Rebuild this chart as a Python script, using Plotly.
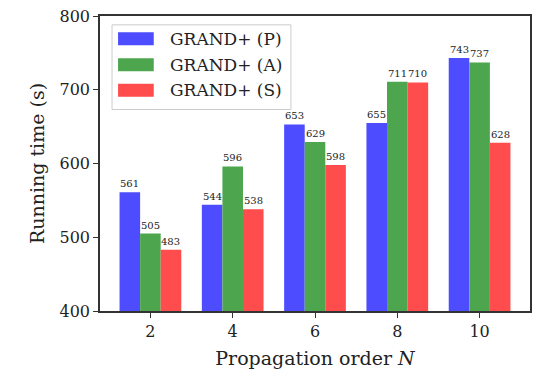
import plotly.graph_objects as go

# Running time (s) of the three GRAND+ variants per propagation order N
orders = [2, 4, 6, 8, 10]
series_names = ["GRAND+ (P)", "GRAND+ (A)", "GRAND+ (S)"]
time_p = [561, 544, 653, 655, 743]
time_a = [505, 596, 629, 711, 737]
time_s = [483, 538, 598, 710, 628]
y_ticks = [400, 500, 600, 700, 800]

colors = ["#4d4dff", "#4da64d", "#ff4d4d"]
font_family = "DejaVu Serif, Liberation Serif, serif"
text_color = "#222"

fig = go.Figure()
all_series = [time_p, time_a, time_s]
for name, vals, col in zip(series_names, all_series, colors):
    fig.add_trace(go.Bar(
        x=orders, y=vals, name=name, showlegend=False,
        marker=dict(color=col, line=dict(width=0)),
    ))

# value labels above each bar (bars are 0.5 units wide, grouped around N)
bar_w = 0.5
annotations = []
for i, vals in enumerate(all_series):
    for n, v in zip(orders, vals):
        annotations.append(dict(
            x=n + (i - 1) * bar_w, y=v, text=str(v),
            showarrow=False, yanchor="bottom", yshift=1,
            font=dict(family=font_family, size=10, color=text_color),
        ))

# legend drawn as a framed box with wide colour swatches
shapes = [dict(
    type="rect", xref="paper", yref="paper",
    x0=0.028, x1=0.444, y0=0.683, y1=0.97,
    line=dict(color="#cccccc", width=1), fillcolor="rgba(255,255,255,0.85)",
    layer="above",
)]
row_y = [0.923, 0.835, 0.748]
for name, col, ry in zip(series_names, colors, row_y):
    shapes.append(dict(
        type="rect", xref="paper", yref="paper",
        x0=0.042, x1=0.125, y0=ry - 0.022, y1=ry + 0.022,
        line=dict(width=0), fillcolor=col, layer="above",
    ))
    annotations.append(dict(
        xref="paper", yref="paper", x=0.157, y=ry, text=name,
        showarrow=False, xanchor="left", yanchor="middle",
        font=dict(family=font_family, size=17, color=text_color),
    ))

axis_common = dict(
    showline=True, mirror=True, linecolor="#333", linewidth=1.5,
    ticks="outside", ticklen=5, tickcolor="#333", tickwidth=1.2,
    showgrid=False, zeroline=False,
    tickfont=dict(family=font_family, size=16, color=text_color),
)

fig.update_layout(
    width=539, height=373,
    margin=dict(l=100, r=7, t=12, b=61),
    paper_bgcolor="white", plot_bgcolor="white",
    barmode="group", bargap=0.25, bargroupgap=0,
    font=dict(family=font_family, size=16, color=text_color),
    annotations=annotations, shapes=shapes,
    showlegend=False,
    xaxis=dict(
        range=[0.775, 11.225], tickvals=orders,
        title=dict(text="Propagation order <i>N</i>",
                   font=dict(family=font_family, size=19, color=text_color), standoff=12),
        **axis_common,
    ),
    yaxis=dict(
        range=[400, 800], tickvals=y_ticks,
        title=dict(text="Running time (s)",
                   font=dict(family=font_family, size=19, color=text_color), standoff=10),
        **axis_common,
    ),
)

fig.write_html("out.html")
